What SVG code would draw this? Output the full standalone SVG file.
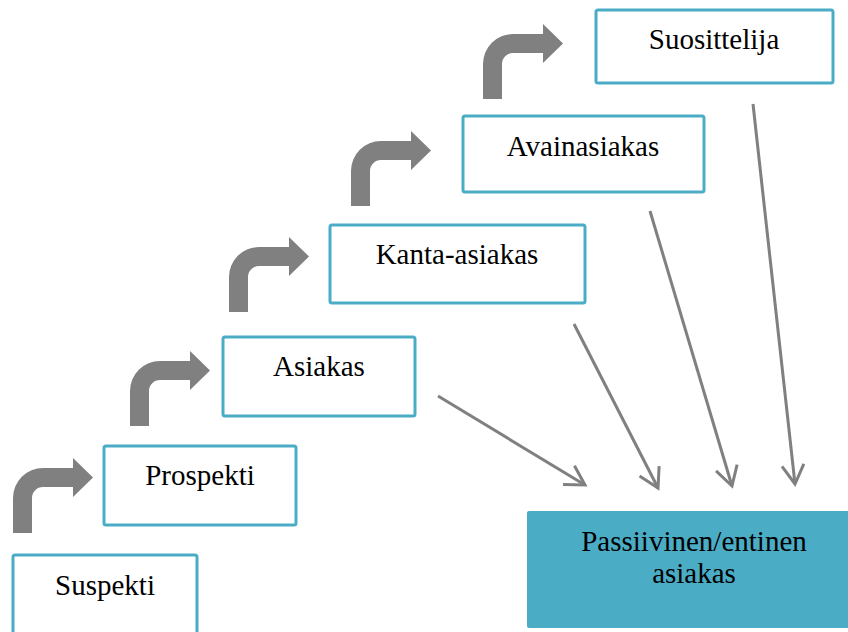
<svg xmlns="http://www.w3.org/2000/svg" width="848" height="632" viewBox="0 0 848 632">
<style>
.box{fill:#fff;stroke:#4BACC6;stroke-width:3}
.pbox{fill:#4BACC6}
.t{font-size:29px;fill:#000;text-anchor:middle}
.bent{fill:#808080}
.ln{stroke:#808080;stroke-width:3;fill:none;marker-end:url(#chev)}
</style>
<defs>
<marker id="chev" markerUnits="userSpaceOnUse" markerWidth="30" markerHeight="30" viewBox="-25 -15 30 30" refX="0" refY="0" orient="auto" overflow="visible">
<path d="M-19,-11 L0,0 L-19,11" fill="none" stroke="#808080" stroke-width="3"/>
</marker>
<path id="bentArrow" d="M0,0 L0,-35 A30,30 0 0 1 30,-65 L60,-65 L60,-75 L80,-55.5 L60,-36 L60,-46 L30,-46 A11,11 0 0 0 19,-35 L19,0 Z"/>
</defs>
<rect width="848" height="632" fill="#fff"/>
<g id="connectors">
<use href="#bentArrow" class="bent" transform="translate(13,533)"/>
<use href="#bentArrow" class="bent" transform="translate(130,426)"/>
<use href="#bentArrow" class="bent" transform="translate(229,312)"/>
<use href="#bentArrow" class="bent" transform="translate(351,206)"/>
<use href="#bentArrow" class="bent" transform="translate(483,99)"/>
<line class="ln" x1="438" y1="396" x2="585" y2="485"/>
<line class="ln" x1="574" y1="324" x2="658" y2="488"/>
<line class="ln" x1="650" y1="211" x2="732" y2="486"/>
<line class="ln" x1="753" y1="104" x2="795" y2="484"/>
</g>
<g font-family="Liberation Serif, Times New Roman, serif">
<g id="suspekti">
<rect class="box" x="13" y="555" width="184" height="100" rx="2"/>
<text class="t" x="105" y="595">Suspekti</text>
</g>
<g id="prospekti">
<rect class="box" x="104" y="446" width="192" height="79" rx="2"/>
<text class="t" x="200" y="485">Prospekti</text>
</g>
<g id="asiakas">
<rect class="box" x="223" y="337" width="192" height="79" rx="2"/>
<text class="t" x="319" y="376">Asiakas</text>
</g>
<g id="kanta-asiakas">
<rect class="box" x="330" y="225" width="255" height="78" rx="2"/>
<text class="t" x="457" y="264">Kanta-asiakas</text>
</g>
<g id="avainasiakas">
<rect class="box" x="463" y="116" width="241" height="76" rx="2"/>
<text class="t" x="583" y="156">Avainasiakas</text>
</g>
<g id="suosittelija">
<rect class="box" x="596" y="10" width="237" height="73" rx="2"/>
<text class="t" x="714" y="49">Suosittelija</text>
</g>
<g id="passiivinen">
<rect class="pbox" x="527" y="511" width="340" height="117" rx="2"/>
<text class="t" x="694" y="551">Passiivinen/entinen</text>
<text class="t" x="694" y="583">asiakas</text>
</g>
</g>
</svg>
